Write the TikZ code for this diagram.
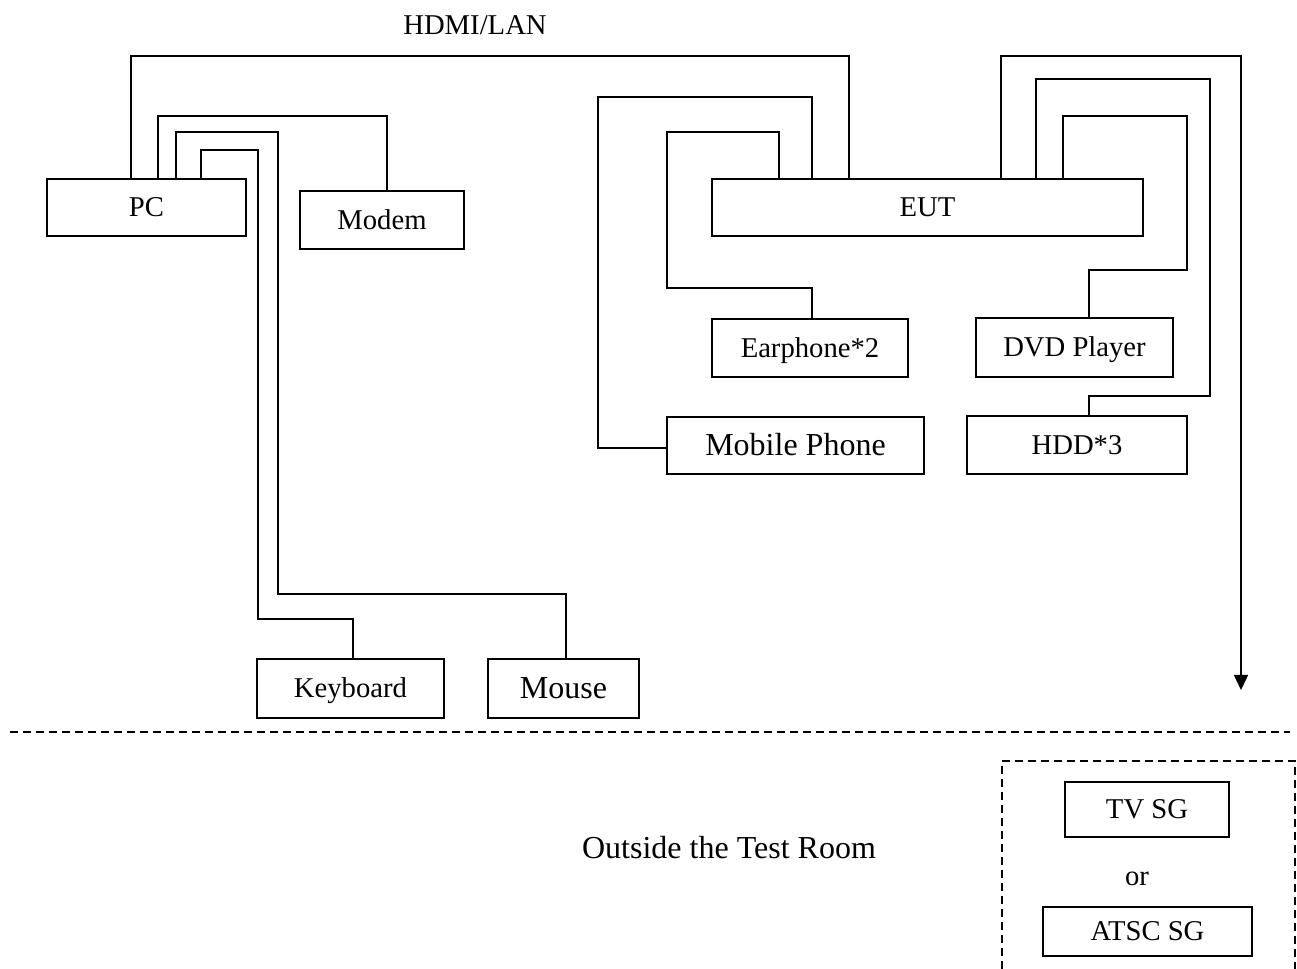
\documentclass[tikz,border=0pt]{standalone}
\usepackage{fontspec}
\setmainfont{Liberation Serif}
\usetikzlibrary{arrows.meta}
\begin{document}
\begin{tikzpicture}[x=0.75pt,y=-0.75pt,
  box/.style={draw, line width=1.1pt, inner sep=0pt,
    font=\fontsize{21.5}{24}\selectfont, text height=14pt, text depth=0pt},
  big/.style={font=\fontsize{24}{28}\selectfont, text height=15.6pt},
  bx/.style n args={2}{box, minimum width=#1*0.75pt, minimum height=#2*0.75pt},
  wire/.style={line width=1.1pt},
  lbl/.style={inner sep=0pt, font=\fontsize{21.5}{24}\selectfont, text height=14pt, text depth=0pt},
  dashline/.style={line width=1pt, dash pattern=on 6pt off 3.75pt}]
\useasboundingbox (0,0) rectangle (1297,969);

% boxes
\node[bx={199}{57}] (PC) at (146.5,207.5) {PC};
\node[bx={164}{58}] (Modem) at (382,220) {Modem};
\node[bx={431}{57}] (EUT) at (927.5,207.5) {EUT};
\node[bx={196}{58}] (Earphone) at (810,348) {Earphone*2};
\node[bx={197}{59}] (DVD) at (1074.5,347.5) {DVD Player};
\node[bx={257}{57}, big] (Mobile) at (795.5,445.5) {Mobile Phone};
\node[bx={220}{58}] (HDD) at (1077,445) {HDD*3};
\node[bx={187}{59}] (Keyboard) at (350.5,688.5) {Keyboard};
\node[bx={151}{59}, big] (Mouse) at (563.5,688.5) {Mouse};
\node[bx={164}{55}] (TVSG) at (1147,809.5) {TV SG};
\node[bx={209}{49}] (ATSC) at (1147.5,931.5) {ATSC SG};

% labels
\node[lbl] (hdmi) at (475,25) {HDMI/LAN};
\node[lbl, anchor=base] (or) at (1137,885) {or};
\node[lbl, big] (outside) at (729,848) {Outside the Test Room};

% corner coordinates
\coordinate (h1) at (131,56);  \coordinate (h2) at (849,56);
\coordinate (m1) at (158,116); \coordinate (m2) at (387,116);
\coordinate (u1) at (176,132); \coordinate (u2) at (278,132);
\coordinate (u3) at (278,594); \coordinate (u4) at (566,594);
\coordinate (k1) at (201,150); \coordinate (k2) at (258,150);
\coordinate (k3) at (258,619); \coordinate (k4) at (353,619);
\coordinate (p1) at (812,97);  \coordinate (p2) at (598,97);
\coordinate (p3) at (598,448);
\coordinate (e1) at (779,132); \coordinate (e2) at (667,132);
\coordinate (e3) at (667,288); \coordinate (e4) at (812,288);
\coordinate (s1) at (1001,56); \coordinate (s2) at (1241,56);
\coordinate (s3) at (1241,690);
\coordinate (d1) at (1036,79); \coordinate (d2) at (1210,79);
\coordinate (d3) at (1210,396); \coordinate (d4) at (1089,396);
\coordinate (v1) at (1063,116); \coordinate (v2) at (1187,116);
\coordinate (v3) at (1187,270); \coordinate (v4) at (1089,270);

% connectors
\draw[wire] (PC.north -| h1) -- (h1) -- (h2) -- (EUT.north -| h2);
\draw[wire] (PC.north -| m1) -- (m1) -- (m2) -- (Modem.north -| m2);
\draw[wire] (PC.north -| u1) -- (u1) -- (u2) -- (u3) -- (u4) -- (Mouse.north -| u4);
\draw[wire] (PC.north -| k1) -- (k1) -- (k2) -- (k3) -- (k4) -- (Keyboard.north -| k4);
\draw[wire] (EUT.north -| p1) -- (p1) -- (p2) -- (p3) -- (Mobile.west |- p3);
\draw[wire] (EUT.north -| e1) -- (e1) -- (e2) -- (e3) -- (e4) -- (Earphone.north -| e4);
\draw[wire, -{Triangle[length=11.25pt,width=10.5pt]}] (EUT.north -| s1) -- (s1) -- (s2) -- (s3);
\draw[wire] (EUT.north -| d1) -- (d1) -- (d2) -- (d3) -- (d4) -- (HDD.north -| d4);
\draw[wire] (EUT.north -| v1) -- (v1) -- (v2) -- (v3) -- (v4) -- (DVD.north -| v4);

% test room boundary
\draw[dashline] (10,732) -- (1290,732);
\draw[dashline] (1002,969) -- (1002,761) -- (1295,761) -- (1295,969);
\end{tikzpicture}
\end{document}
